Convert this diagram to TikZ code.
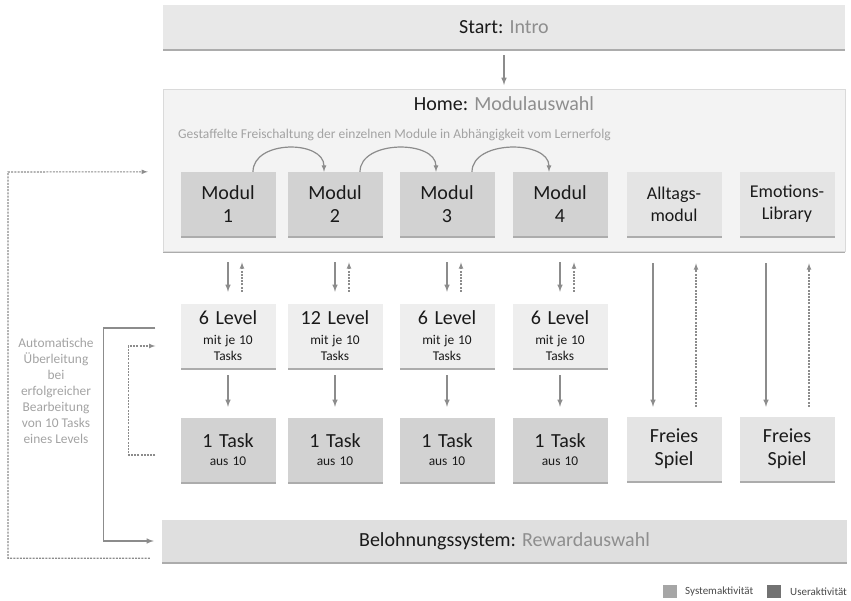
\documentclass[tikz,border=0pt]{standalone}
\usepackage{fontspec}
\setmainfont{Carlito}
\usetikzlibrary{calc,shadows}

\begin{document}
\begin{tikzpicture}[x=1pt,y=-1pt,
  box/.style={inner sep=0pt,align=center,text=fl_ink,font=\fontsize{20}{23}\selectfont,
    drop shadow={shadow xshift=0pt,shadow yshift=-2pt,fill=fl_shade,opacity=1}},
  cell/.style={box,text width=95pt,minimum height=64pt},
  bar/.style={box,minimum width=682pt,minimum height=44pt},
  userbox/.style={cell,fill=fl_user},
  sysbox/.style={cell,fill=fl_sys},
  arr/.style={->,-latex,line width=1.5pt,fl_arrow},
  darr/.style={->,-latex,line width=1.1pt,fl_arrow,dash pattern=on 2pt off 1.2pt},
  small/.style={font=\fontsize{13.4}{16}\selectfont},
]
\definecolor{fl_ink}{RGB}{26,26,26}       %#1A1A1A
\definecolor{fl_bar}{RGB}{232,232,232}    %#E8E8E8
\definecolor{fl_home}{RGB}{243,243,243}   %#F3F3F3
\definecolor{fl_edge}{RGB}{218,218,218}   %#DADADA
\definecolor{fl_shade}{RGB}{172,172,172}  %#ACACAC
\definecolor{fl_user}{RGB}{210,210,210}   %#D2D2D2
\definecolor{fl_sys}{RGB}{228,228,228}    %#E4E4E4
\definecolor{fl_level}{RGB}{238,238,238}  %#EEEEEE
\definecolor{fl_reward}{RGB}{223,223,223} %#DFDFDF
\definecolor{fl_arrow}{RGB}{140,140,140}  %#8C8C8C
\definecolor{fl_label}{RGB}{142,142,142}  %#8E8E8E
\definecolor{fl_note}{RGB}{163,163,163}   %#A3A3A3
\definecolor{fl_legsys}{RGB}{166,166,166} %#A6A6A6
\definecolor{fl_leguser}{RGB}{114,114,114}%#727272

% smaller second line inside a cell
\def\smalltxt{\fontsize{13.4}{16}\selectfont\spaceskip=0pt\relax}

\useasboundingbox (0,0) rectangle (851,600);

\coordinate (back) at (8,172);

% start and home
\node[bar,fill=fl_bar] (start) at (504,27) {Start: \textcolor{fl_label}{Intro}};
\node[bar,fill=fl_home,draw=fl_edge,minimum height=162pt,anchor=north] (home) at (504,89) {};
\node[inner sep=0pt,text=fl_ink,font=\fontsize{20}{23}\selectfont] (hometitle) at (504,104) {Home: \textcolor{fl_label}{Modulauswahl}};
\node[anchor=west,inner sep=0pt,text=fl_note,font=\fontsize{13.5}{16}\selectfont] (stagger) at (178,135) {Gestaffelte Freischaltung der einzelnen Module in Abhängigkeit vom Lernerfolg};

\node[userbox] (m1) at (228,204) {Modul\\1};
\node[userbox] (m2) at (335,204) {Modul\\2};
\node[userbox] (m3) at (447,204) {Modul\\3};
\node[userbox] (m4) at (560,204) {Modul\\4};
\node[sysbox,font=\fontsize{18}{22}\selectfont] (alltag) at (674,204) {Alltags-\\modul};
\node[sysbox,font=\fontsize{18}{22}\selectfont] (emo) at (787,204) {Emotions-\\Library};

% levels and tasks
\node[cell,fill=fl_level] (l1) at (228,336) {6 Level\\[4pt] \smalltxt mit je 10\\Tasks\par};
\node[cell,fill=fl_level] (l2) at (335,336) {12 Level\\[4pt] \smalltxt mit je 10\\Tasks\par};
\node[cell,fill=fl_level] (l3) at (447,336) {6 Level\\[4pt] \smalltxt mit je 10\\Tasks\par};
\node[cell,fill=fl_level] (l4) at (560,336) {6 Level\\[4pt] \smalltxt mit je 10\\Tasks\par};

\node[userbox] (t1) at (228,450) {1 Task\\[2pt] \smalltxt aus 10\par};
\node[userbox] (t2) at (335,450) {1 Task\\[2pt] \smalltxt aus 10\par};
\node[userbox] (t3) at (447,450) {1 Task\\[2pt] \smalltxt aus 10\par};
\node[userbox] (t4) at (560,450) {1 Task\\[2pt] \smalltxt aus 10\par};
\node[sysbox] (f1) at (674,449) {Freies\\Spiel};
\node[sysbox] (f2) at (787,449) {Freies\\Spiel};

\node[bar,fill=fl_reward,minimum width=685pt,minimum height=42pt] (reward) at (504.5,541) {Belohnungssystem: \textcolor{fl_label}{Rewardauswahl}};

\node[small,text=fl_note,align=center,inner sep=0pt] (autotext) at (56,391) {Automatische\\Überleitung\\bei\\erfolgreicher\\Bearbeitung\\von 10 Tasks\\eines Levels};

% legend
\node[fill=fl_legsys,minimum width=14pt,minimum height=13pt,inner sep=0pt] (legsys) at (670,591.5) {};
\node[anchor=west,inner sep=0pt,text=fl_ink!80,font=\fontsize{11}{13}\selectfont] (legsystxt) at (685,591.5) {Systemaktivität};
\node[fill=fl_leguser,minimum width=14pt,minimum height=13pt,inner sep=0pt] (leguser) at (773.5,591.5) {};
\node[anchor=west,inner sep=0pt,text=fl_ink!80,font=\fontsize{11}{13}\selectfont] (legusertxt) at (790,591.5) {Useraktivität};

% arrows
\draw [arr,shorten <=6pt,shorten >=4pt] (start) -- (home);

\draw [arr,line width=1.2pt] ([xshift=25pt]m1.north) .. controls +(0,-32) and +(0,-32) .. ([xshift=-11pt]m2.north);
\draw [arr,line width=1.2pt] ([xshift=25pt]m2.north) .. controls +(0,-32) and +(0,-32) .. ([xshift=-11pt]m3.north);
\draw [arr,line width=1.2pt] ([xshift=25pt]m3.north) .. controls +(0,-32) and +(0,-32) .. ([xshift=-11pt]m4.north);

\draw [arr,shorten <=11pt,shorten >=12pt] (m1 |- home.south) -- (l1);
\draw [darr,shorten <=12pt,shorten >=11pt] ([xshift=14pt]l1.north) -- ([xshift=14pt]m1 |- home.south);
\draw [arr,shorten <=11pt,shorten >=12pt] (m2 |- home.south) -- (l2);
\draw [darr,shorten <=12pt,shorten >=11pt] ([xshift=14pt]l2.north) -- ([xshift=14pt]m2 |- home.south);
\draw [arr,shorten <=11pt,shorten >=12pt] (m3 |- home.south) -- (l3);
\draw [darr,shorten <=12pt,shorten >=11pt] ([xshift=14pt]l3.north) -- ([xshift=14pt]m3 |- home.south);
\draw [arr,shorten <=11pt,shorten >=12pt] (m4 |- home.south) -- (l4);
\draw [darr,shorten <=12pt,shorten >=11pt] ([xshift=14pt]l4.north) -- ([xshift=14pt]m4 |- home.south);

\draw [arr,shorten <=7pt,shorten >=11pt] (l1) -- (t1);
\draw [arr,shorten <=7pt,shorten >=11pt] (l2) -- (t2);
\draw [arr,shorten <=7pt,shorten >=11pt] (l3) -- (t3);
\draw [arr,shorten <=7pt,shorten >=11pt] (l4) -- (t4);

\draw [arr,shorten <=12pt,shorten >=10pt] ([xshift=-21pt]alltag |- home.south) -- ([xshift=-21pt]f1.north);
\draw [darr,shorten <=10pt,shorten >=12pt] ([xshift=22pt]f1.north) -- ([xshift=22pt]alltag |- home.south);
\draw [arr,shorten <=12pt,shorten >=10pt] ([xshift=-21pt]emo |- home.south) -- ([xshift=-21pt]f2.north);
\draw [darr,shorten <=10pt,shorten >=12pt] ([xshift=22pt]f2.north) -- ([xshift=22pt]emo |- home.south);

% feedback loops on the left
\draw [arr] ([shift={(-25,-8)}]l1.west) -- ++(-52,0) |- ([xshift=-8pt]reward.west);
\draw [darr] ([shift={(-25,5)}]t1.west) -- ++(-27,0) |- ([shift={(-25,10)}]l1.west);
\draw [darr] ([shift={(-12,-4)}]reward.south west) -| (back) -- ([xshift=-15pt]home.west |- m1.north);

\end{tikzpicture}
\end{document}
